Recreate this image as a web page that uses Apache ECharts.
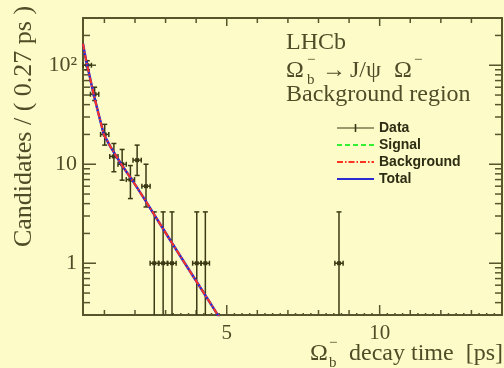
<!DOCTYPE html>
<html>
<head>
<meta charset="utf-8">
<script src="https://cdn.jsdelivr.net/npm/echarts@6/dist/echarts.min.js"></script>
<style>
  html, body { margin: 0; padding: 0; }
  #chart { width: 504px; height: 368px; }
</style>
</head>
<body>
<div id="chart"></div>
<script>
// decay time distribution, background region
const binWidth = 0.27;
const binCenters = [0.44, 0.68, 1.01, 1.31, 1.58, 1.85, 2.07, 2.36, 2.63, 2.92, 3.21, 4.02, 4.30, 8.67];
const counts     = [100, 51, 20, 12, 10, 7, 11, 6, 1, 1, 1, 1, 1, 1];
const errLow     = [90, 44, 15.6, 8.4, 6.9, 4.5, 7.7, 3.7, 0.17, 0.17, 0.17, 0.17, 0.17, 0.17];
const errHigh    = [111, 60, 25.3, 16.2, 14.1, 9.7, 15.6, 10, 3.3, 3.3, 3.3, 3.3, 3.3, 3.3];

// fit curves (background and total overlap, signal is off scale)
const fitTime       = [0.3, 0.35, 0.42, 0.5, 0.64, 0.8, 0.98, 1.2, 1.55, 1.91, 2.3, 2.8, 3.2, 3.63, 4.2, 4.68, 4.8];
const fitTotal      = [165, 135, 105, 82, 52, 33, 20, 15, 10, 6.9, 4.5, 2.55, 1.62, 1, 0.53, 0.31, 0.27];
const fitBackground = [165, 135, 105, 82, 52, 33, 20, 15, 10, 6.9, 4.5, 2.55, 1.62, 1, 0.53, 0.31, 0.27];
const fitSignal     = [];

// axis ticks
const xMajor = [5, 10];
const xMinor = [1, 2, 3, 4, 6, 7, 8, 9, 11, 12, 13];
const xTiny = [3.25, 3.5, 3.75, 4.25, 4.5, 4.75, 5.25, 5.5, 5.75, 6.25, 6.5, 6.75, 7.25, 7.5, 7.75,
  8.25, 8.5, 8.75, 9.25, 9.5, 9.75, 10.25, 10.5, 10.75, 11.25, 11.5, 11.75, 12.25, 12.5, 12.75, 13.25, 13.5, 13.75];
const yMajor = [1, 10, 100];
const yMinor = [0.4, 0.5, 0.6, 0.7, 0.8, 0.9, 2, 3, 4, 5, 6, 7, 8, 9, 20, 30, 40, 50, 60, 70, 80, 90, 200];

const bg = '#fdfbc8';
const frame = '#57552c';
const txt = '#4f4d28';
const dataColor = '#3a3a14';
const serif = 'Liberation Serif';
const clear = 'rgba(0,0,0,0)';

// ROOT style inside ticks, row: [x, y, side (0 bottom, 1 top, 2 left, 3 right), length]
function tickRows() {
  const rows = [];
  xMajor.forEach(v => { rows.push([v, 1, 0, 10]); rows.push([v, 1, 1, 8]); });
  xMinor.forEach(v => { rows.push([v, 1, 0, 5]); rows.push([v, 1, 1, 5]); });
  xTiny.forEach(v => rows.push([v, 1, 0, 2]));
  yMajor.forEach(v => { rows.push([1, v, 2, 13]); rows.push([1, v, 3, 13]); });
  yMinor.forEach(v => { rows.push([1, v, 2, 7]); rows.push([1, v, 3, 7]); });
  return rows;
}

function frameAxisLine() {
  return { show: true, onZero: false, lineStyle: { color: frame, width: 2 } };
}

// text placed as title boxes (top = box top)
function label(text, left, top, size, extra) {
  return Object.assign({
    text: text, left: left, top: top, padding: 0,
    textStyle: { fontFamily: serif, fontSize: size, lineHeight: size, fontWeight: 'normal', color: txt }
  }, extra || {});
}

// one piece of the data marker per series: bar, cap, marker
function dataPiece(part, dataPoints) {
  return {
    name: 'Data',
    type: 'custom',
    itemStyle: { color: dataColor },
    renderItem: function (params, api) {
      const t = api.value(0), n = api.value(1), lo = api.value(2), hi = api.value(3);
      const cs = params.coordSys;
      const bottomPx = cs.y + cs.height;
      const c = api.coord([t, n]);
      const top = api.coord([t, hi]);
      const bot = api.coord([t, lo]);
      const l = api.coord([t - binWidth / 2, n]);
      const r = api.coord([t + binWidth / 2, n]);
      const clipped = bot[1] > bottomPx;
      const st = { stroke: dataColor, lineWidth: 1.5 };
      if (part === 'vbar') {
        return { type: 'line', shape: { x1: c[0], y1: top[1], x2: c[0], y2: clipped ? bottomPx : bot[1] }, style: st };
      }
      if (part === 'hbar') {
        return { type: 'line', shape: { x1: l[0], y1: c[1], x2: r[0], y2: c[1] }, style: st };
      }
      if (part === 'topcap') {
        return { type: 'line', shape: { x1: c[0] - 2.5, y1: top[1], x2: c[0] + 2.5, y2: top[1] }, style: st };
      }
      if (part === 'botcap') {
        if (clipped) return null;
        return { type: 'line', shape: { x1: c[0] - 2.5, y1: bot[1], x2: c[0] + 2.5, y2: bot[1] }, style: st };
      }
      if (part === 'lcap') {
        return { type: 'line', shape: { x1: l[0], y1: c[1] - 2.5, x2: l[0], y2: c[1] + 2.5 }, style: st };
      }
      if (part === 'rcap') {
        return { type: 'line', shape: { x1: r[0], y1: c[1] - 2.5, x2: r[0], y2: c[1] + 2.5 }, style: st };
      }
      return { type: 'rect', shape: { x: c[0] - 2, y: c[1] - 2, width: 4, height: 4 }, style: { fill: dataColor } };
    },
    data: dataPoints
  };
}

function renderChart() {
  const chart = echarts.init(document.getElementById('chart'));
  const dataPoints = binCenters.map((t, i) => [t, counts[i], errLow[i], errHigh[i]]);

  const option = {
    backgroundColor: bg,
    animation: false,
    grid: { left: 83, right: 2, top: 18, bottom: 53 },
    title: [
      label('LHCb', 286, 31, 24),
      label('Ω', 286, 59, 24),
      label('b', 307, 72.5, 15),
      label('−', 307, 52.5, 15),
      label('→', 322, 59, 24),
      label('J/ψ', 350, 59, 24),
      label('Ω', 394, 59, 24),
      label('−', 414, 52.5, 15),
      label('Background region', 286, 83, 24),
      label('Ω', 310, 342, 24),
      label('b', 329, 355.5, 15),
      label('−', 329, 335.5, 15),
      label('decay time  [ps]', null, 342, 24, { left: null, right: 1 })
    ],
    xAxis: [
      { type: 'value', position: 'bottom', min: 0.3, max: 14,
        axisLine: frameAxisLine(),
        axisTick: { show: false },
        axisLabel: { show: true, customValues: xMajor, fontFamily: serif, fontSize: 21, color: txt, margin: 8 },
        splitLine: { show: false } },
      { type: 'value', position: 'top', min: 0.3, max: 14,
        axisLine: frameAxisLine(),
        axisTick: { show: false }, axisLabel: { show: false }, splitLine: { show: false } }
    ],
    yAxis: [
      { type: 'log', position: 'left', min: 0.3, max: 300,
        name: 'Candidates / ( 0.27 ps )',
        nameLocation: 'middle',
        nameRotate: 90,
        nameGap: 44,
        nameTextStyle: { fontFamily: serif, fontSize: 26, lineHeight: 26, color: txt, padding: [0, 0, 0, 80] },
        axisLine: frameAxisLine(),
        axisTick: { show: false },
        axisLabel: {
          show: true, customValues: yMajor, fontFamily: serif, fontSize: 22, color: txt, margin: 6,
          formatter: function (v) {
            return Math.round(v) >= 100 ? '10²' : String(Math.round(v));
          }
        },
        splitLine: { show: false } },
      { type: 'log', position: 'right', min: 0.3, max: 300,
        axisLine: frameAxisLine(),
        axisTick: { show: false }, axisLabel: { show: false }, splitLine: { show: false } }
    ],
    legend: {
      orient: 'vertical',
      left: 336,
      top: 121,
      padding: 0,
      itemWidth: 37,
      itemHeight: 8,
      itemGap: 3,
      textStyle: { fontFamily: 'Liberation Sans', fontWeight: 'bold', fontSize: 14, lineHeight: 13, color: '#2d2d14' },
      data: [
        { name: 'Data', icon: 'path://M0,3.4h37v1.2h-37z M17.7,0h1.6v8h-1.6z' },
        { name: 'Signal', itemStyle: { color: clear, borderColor: clear, borderWidth: 0 } },
        { name: 'Background', itemStyle: { color: clear, borderColor: clear, borderWidth: 0 } },
        { name: 'Total', itemStyle: { color: clear, borderColor: clear, borderWidth: 0 } }
      ]
    },
    series: [
      {
        name: 'ticks',
        type: 'custom',
        renderItem: function (params, api) {
          const cs = params.coordSys;
          const side = api.value(2), len = api.value(3);
          const st = { stroke: frame, lineWidth: 1.5 };
          if (side === 0 || side === 1) {
            const px = api.coord([api.value(0), 1])[0];
            const y0 = side === 0 ? cs.y + cs.height : cs.y;
            const y1 = side === 0 ? y0 - len : y0 + len;
            return { type: 'line', shape: { x1: px, y1: y0, x2: px, y2: y1 }, style: st };
          }
          const py = api.coord([1, api.value(1)])[1];
          const x0 = side === 2 ? cs.x : cs.x + cs.width;
          const x1 = side === 2 ? x0 + len : x0 - len;
          return { type: 'line', shape: { x1: x0, y1: py, x2: x1, y2: py }, style: st };
        },
        data: tickRows()
      },
      {
        name: 'Signal',
        type: 'line',
        symbol: 'none',
        lineStyle: { color: '#33ee33', width: 1.5, type: [5, 3] },
        data: fitSignal
      },
      {
        name: 'Total',
        type: 'line',
        symbol: 'none',
        lineStyle: { color: '#2b2bd0', width: 2.5 },
        data: fitTime.map((t, i) => [t, fitTotal[i]])
      },
      {
        name: 'Background',
        type: 'line',
        symbol: 'none',
        lineStyle: { color: '#ff3322', width: 2, type: [6, 2, 1.5, 2] },
        data: fitTime.map((t, i) => [t, fitBackground[i]])
      },
      dataPiece('vbar', dataPoints),
      dataPiece('hbar', dataPoints),
      dataPiece('topcap', dataPoints),
      dataPiece('botcap', dataPoints),
      dataPiece('lcap', dataPoints),
      dataPiece('rcap', dataPoints),
      dataPiece('marker', dataPoints)
    ]
  };
  chart.setOption(option, true);
}
renderChart();
</script>
</body>
</html>
